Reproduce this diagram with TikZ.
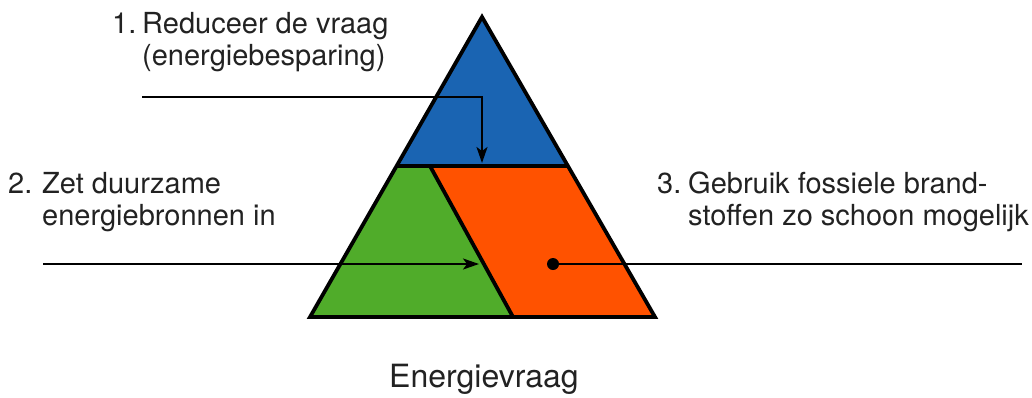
\documentclass[tikz,border=0pt]{standalone}
\usepackage{fontspec}
\setmainfont{TeX Gyre Heros}
\usetikzlibrary{arrows.meta}
\definecolor{pblue}{RGB}{26,100,178}
\definecolor{pgreen}{RGB}{80,172,42}
\definecolor{porange}{RGB}{255,82,0}
\definecolor{txt}{RGB}{34,34,34}
\tikzset{
  lbl/.style={inner sep=0pt, anchor=base west, text=txt, font=\fontsize{29}{32}\selectfont},
  part/.style={draw=black, line width=3.8pt, line join=miter},
  conn/.style={draw=black, line width=2pt},
  arr/.style={conn, -{Stealth[length=16pt,width=11pt,inset=4pt]}}
}
\begin{document}
\begin{tikzpicture}[x=1pt,y=-1pt]
\useasboundingbox (0,0) rectangle (1032,397);
% triangle geometry
\coordinate (apex) at (482,17);
\coordinate (bl) at (310,317);
\coordinate (br) at (655,317);
\coordinate (ml) at (397,166);
\coordinate (mr) at (568,166);
\coordinate (dt) at (430,166);
\coordinate (db) at (513,317);
% regions
\fill[pblue] (apex) -- (mr) -- (ml) -- cycle;
\fill[pgreen] (ml) -- (dt) -- (db) -- (bl) -- cycle;
\fill[porange] (dt) -- (mr) -- (br) -- (db) -- cycle;
\draw[part] (ml) -- (mr);
\draw[part] (dt) -- (db);
\draw[part] (apex) -- (br) -- (bl) -- cycle;
% connectors
\coordinate (s1) at (142,97);
\coordinate (e1) at (482,163);
\draw[arr] (s1) -| (e1);
\coordinate (s2) at (43,264);
\coordinate (e2) at (479,264);
\draw[arr] (s2) -- (e2);
\node[circle, fill=black, inner sep=0pt, minimum size=12pt] (dot) at (553,264) {};
\coordinate (e3) at (1022,264);
\draw[conn] (dot.center) -- (e3);
% labels
\node[lbl] (n1) at (112,33) {1.};
\node[lbl] (t1) at (142,33) {\begin{tabular}[t]{@{}l@{}}Reduceer de vraag\\(energiebesparing)\end{tabular}};
\node[lbl] (n2) at (8,193) {2.};
\node[lbl] (t2) at (42,193) {\begin{tabular}[t]{@{}l@{}}Zet duurzame\\energiebronnen in\end{tabular}};
\node[lbl] (n3) at (657,193) {3.};
\node[lbl] (t3) at (688,193) {\begin{tabular}[t]{@{}l@{}}Gebruik fossiele brand-\\stoffen zo schoon mogelijk\end{tabular}};
\node[lbl, font=\fontsize{32}{36}\selectfont] (title) at (389,387) {Energievraag};
\end{tikzpicture}
\end{document}
